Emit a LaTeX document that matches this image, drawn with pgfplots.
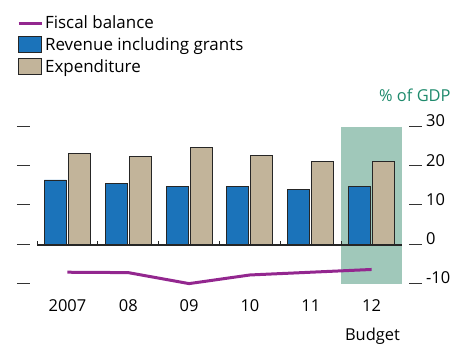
\documentclass[border=0pt]{standalone}
\usepackage{pgfplots}
\pgfplotsset{compat=1.18}
\usepackage{pgfplotstable}
\usepackage{fontspec}
\setmainfont{Open Sans}
\definecolor{revblue}{HTML}{1B73BA}
\definecolor{expbeige}{HTML}{C2B49A}
\definecolor{balpurple}{HTML}{93278F}
\definecolor{shade}{HTML}{A0C8BA}
\definecolor{gdpgreen}{HTML}{1E8A6C}
\definecolor{dashgray}{HTML}{333333}
\newcommand{\dash}{\textcolor{dashgray}{\rule{13bp}{1.1bp}}}
\newcommand{\rl}[1]{\dash\hspace{4bp}#1}

\pgfplotstableread{
x rev exp bal
0 16.5 23.3 -7.0
1 15.6 22.4 -7.1
2 14.9 24.8 -9.9
3 14.8 22.8 -7.7
4 14.2 21.3 -7.0
5 14.8 21.1 -6.3
}\datatable

\begin{document}
\begin{tikzpicture}
\useasboundingbox (0,0) rectangle (453bp,345bp);
% left dashes
\begin{axis}[
  at={(37bp,61bp)}, anchor=south west,
  scale only axis, width=365bp, height=157bp,
  xmin=-0.5, xmax=5.5, ymin=-10, ymax=30,
  axis line style={draw=none},
  xtick=\empty,
  ytick={-10,0,10,20,30},
  yticklabels={\dash,\dash,\dash,\dash,\dash},
  major tick length=0pt,
  yticklabel style={anchor=base east, xshift=-7bp, inner sep=0pt},
]
\addplot[draw=none, forget plot] coordinates {(0,0)};
\end{axis}
\begin{axis}[
  at={(37bp,61bp)}, anchor=south west,
  scale only axis, width=365bp, height=157bp,
  xmin=-0.5, xmax=5.5, ymin=-10, ymax=30,
  axis line style={draw=none},
  xtick={0,...,5}, xticklabels={2007,08,09,10,11,12},
  ytick={-10,0,10,20,30},
  yticklabels={\rl{-10},\rl{0},\rl{10},\rl{20},\rl{30}},
  yticklabel pos=right,
  major tick length=0pt,
  xticklabel style={anchor=base, yshift=-28bp, inner sep=0pt, font=\fontsize{16.5}{16.5}\selectfont},
  yticklabel style={anchor=base west, xshift=7bp, inner sep=0pt, font=\fontsize{16.5}{16.5}\selectfont},
  clip=false,
  legend style={at={(-0.055,1.722)}, anchor=north west, draw=none, fill=none,
    font=\fontsize{17}{17}\selectfont, row sep=3.5bp, inner sep=0pt,
    cells={anchor=west}},
  legend cell align=left,
]
\addlegendimage{balpurple, line width=3bp, legend image code/.code={\draw (0bp,0bp) -- (23bp,0bp);}}
\addlegendentry{Fiscal balance}
\addlegendimage{fill=revblue, draw=black!85, line width=0.9bp, legend image code/.code={\draw (0bp,-8bp) rectangle (23bp,8bp);}}
\addlegendentry{Revenue including grants}
\addlegendimage{fill=expbeige, draw=black!85, line width=0.9bp, legend image code/.code={\draw (0bp,-8bp) rectangle (23bp,8bp);}}
\addlegendentry{Expenditure}

\addplot[fill=shade, draw=none, forget plot] coordinates {(4.5,-10) (5.5,-10) (5.5,30) (4.5,30)} -- cycle;
\addplot[ybar, bar width=22bp, bar shift=-12bp, fill=revblue, draw=black!85, line width=0.9bp, forget plot] table[x=x,y=rev]{\datatable};
\addplot[ybar, bar width=22bp, bar shift=12bp, fill=expbeige, draw=black!85, line width=0.9bp, forget plot] table[x=x,y=exp]{\datatable};
\addplot[balpurple, line width=3bp, forget plot] table[x=x,y=bal]{\datatable};
\draw[line width=2bp, black!85] (axis cs:-0.5,0) -- (axis cs:5.5,0);
\pgfplotsinvokeforeach{-0.5,0.5,1.5,2.5,3.5,4.5}{
  \draw[line width=0.8bp, black!85] (axis cs:#1,0) -- ++(0bp,4bp);
}
\end{axis}
\node[anchor=base west, inner sep=0pt, text=gdpgreen, font=\fontsize{16.5}{16.5}\selectfont] at (379bp,243bp) {\% of GDP};
\node[anchor=base, inner sep=0pt, font=\fontsize{16.5}{16.5}\selectfont] at (372.5bp,5bp) {Budget};
\end{tikzpicture}
\end{document}
